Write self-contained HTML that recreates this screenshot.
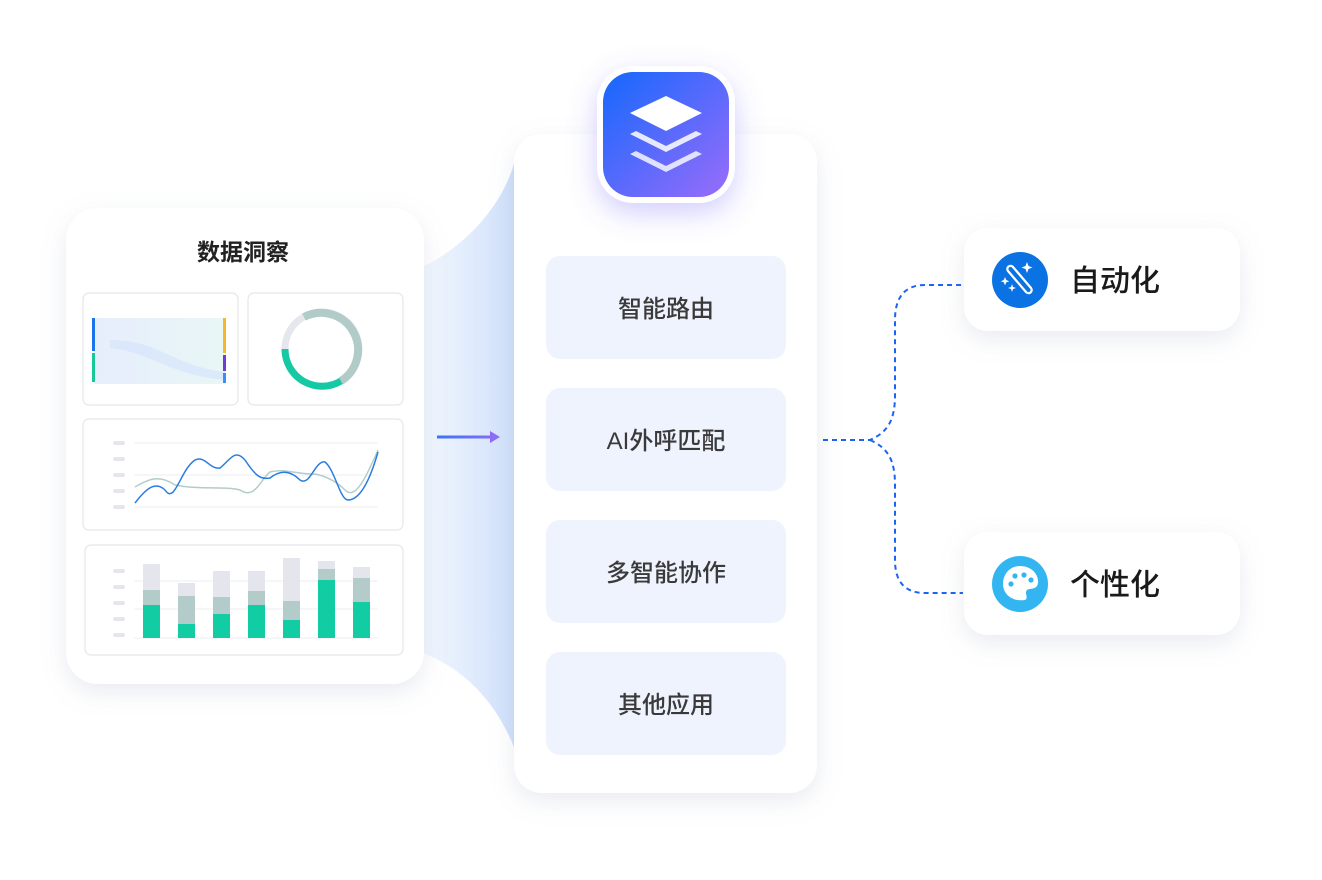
<!DOCTYPE html>
<html><head><meta charset="utf-8"><style>
html,body{margin:0;padding:0;background:#fff;width:1322px;height:880px;overflow:hidden;font-family:"Liberation Sans","Noto Sans CJK SC",sans-serif}
</style></head><body>
<svg width="1322" height="880" viewBox="0 0 1322 880" xmlns="http://www.w3.org/2000/svg" style="position:absolute;left:0;top:0">
<defs>
<linearGradient id="wing" x1="0" y1="0" x2="1" y2="0"><stop offset="0" stop-color="#f4f8fe"/><stop offset="1" stop-color="#cfe0fb"/></linearGradient>
<linearGradient id="ic" x1="0" y1="0" x2="1" y2="1"><stop offset="0" stop-color="#1468fc"/><stop offset="1" stop-color="#9a6cfb"/></linearGradient>
<linearGradient id="arr" gradientUnits="userSpaceOnUse" x1="437" y1="0" x2="500" y2="0"><stop offset="0" stop-color="#3b74f6"/><stop offset="1" stop-color="#8d6cf7"/></linearGradient>
<linearGradient id="sk" x1="0" y1="0" x2="1" y2="0"><stop offset="0" stop-color="#e6eefc"/><stop offset="1" stop-color="#e9f6f6"/></linearGradient>
<filter id="sh" x="-30%" y="-30%" width="160%" height="160%"><feDropShadow dx="0" dy="8" stdDeviation="12" flood-color="#8890b0" flood-opacity="0.18"/></filter>
<filter id="sh2" x="-40%" y="-40%" width="180%" height="180%"><feDropShadow dx="0" dy="10" stdDeviation="14" flood-color="#6a5cf5" flood-opacity="0.3"/></filter>
</defs>
<path d="M420 268 C470 245 505 200 515 160 L515 750 C500 710 470 670 420 652 Z" fill="url(#wing)"/>
<rect x="66" y="208" width="358" height="476" rx="32" fill="#fff" filter="url(#sh)"/>
<text x="243" y="260" font-size="23" fill="#222" text-anchor="middle" font-weight="bold">数据洞察</text>
<g fill="#fff" stroke="#e3e6ea" stroke-width="1.2">
<rect x="83" y="293" width="155" height="112" rx="6"/>
<rect x="248" y="293" width="155" height="112" rx="6"/>
<rect x="83" y="419" width="320" height="111" rx="6"/>
<rect x="85" y="545" width="318" height="110" rx="6"/>
</g>
<rect x="94" y="318" width="132" height="66" fill="url(#sk)"/>
<path d="M110 340 C160 340 170 365 225 372 L225 380 C170 375 150 352 110 348Z" fill="#d8e6fb" opacity="0.8"/>
<rect x="92" y="318" width="3" height="33" fill="#1b74e8"/>
<rect x="92" y="353" width="3" height="29" fill="#18c79a"/>
<rect x="223" y="318" width="3" height="35" fill="#f6b82a"/>
<rect x="223" y="355" width="3" height="16" fill="#6f3dd0"/>
<rect x="223" y="373" width="3" height="10" fill="#3a8ef5"/>
<circle cx="322" cy="349" r="37" fill="none" stroke="#e6e7ed" stroke-width="7"/>
<path d="M304 317 A37 37 0 0 1 341 381" fill="none" stroke="#b1cbc8" stroke-width="8"/>
<path d="M341 381 A37 37 0 0 1 285 349" fill="none" stroke="#14c9a3" stroke-width="7"/>
<g fill="#e5e6ec"><rect x="113" y="441" width="12" height="4" rx="2"/><rect x="113" y="457" width="12" height="4" rx="2"/><rect x="113" y="473" width="12" height="4" rx="2"/><rect x="113" y="489" width="12" height="4" rx="2"/><rect x="113" y="505" width="12" height="4" rx="2"/></g>
<g stroke="#eceef2" stroke-width="1"><line x1="134" y1="443" x2="378" y2="443"/><line x1="134" y1="475" x2="378" y2="475"/><line x1="134" y1="507" x2="378" y2="507"/></g>
<path d="M135 487 C150 478 160 475 175 485 C200 490 225 486 240 490 C255 500 260 480 270 472 C285 468 300 475 315 474 C325 476 335 480 345 490 C355 500 365 480 378 450" fill="none" stroke="#b3ccc9" stroke-width="1.5"/>
<path d="M135 503 C145 490 155 480 165 490 C175 505 180 470 195 460 C205 455 210 470 220 468 C230 460 235 448 245 460 C255 475 260 480 270 478 C280 470 290 470 300 480 C310 487 315 460 325 462 C335 470 340 500 348 500 C360 500 370 480 378 452" fill="none" stroke="#2a7de0" stroke-width="1.5"/>
<g fill="#e5e6ec"><rect x="113" y="569" width="12" height="4" rx="2"/><rect x="113" y="585" width="12" height="4" rx="2"/><rect x="113" y="601" width="12" height="4" rx="2"/><rect x="113" y="617" width="12" height="4" rx="2"/><rect x="113" y="633" width="12" height="4" rx="2"/></g>
<g stroke="#eceef2" stroke-width="1"><line x1="134" y1="581" x2="378" y2="581"/><line x1="134" y1="609" x2="378" y2="609"/><line x1="134" y1="638" x2="378" y2="638"/></g>
<g>
<rect x="143" y="564" width="17" height="26" fill="#e5e5ee"/><rect x="143" y="590" width="17" height="15" fill="#b3ccc9"/><rect x="143" y="605" width="17" height="33" fill="#12cca4"/>
<rect x="178" y="583" width="17" height="13" fill="#e5e5ee"/><rect x="178" y="596" width="17" height="28" fill="#b3ccc9"/><rect x="178" y="624" width="17" height="14" fill="#12cca4"/>
<rect x="213" y="571" width="17" height="26" fill="#e5e5ee"/><rect x="213" y="597" width="17" height="17" fill="#b3ccc9"/><rect x="213" y="614" width="17" height="24" fill="#12cca4"/>
<rect x="248" y="571" width="17" height="20" fill="#e5e5ee"/><rect x="248" y="591" width="17" height="14" fill="#b3ccc9"/><rect x="248" y="605" width="17" height="33" fill="#12cca4"/>
<rect x="283" y="558" width="17" height="43" fill="#e5e5ee"/><rect x="283" y="601" width="17" height="19" fill="#b3ccc9"/><rect x="283" y="620" width="17" height="18" fill="#12cca4"/>
<rect x="318" y="561" width="17" height="8" fill="#e5e5ee"/><rect x="318" y="569" width="17" height="11" fill="#b3ccc9"/><rect x="318" y="580" width="17" height="58" fill="#12cca4"/>
<rect x="353" y="567" width="17" height="11" fill="#e5e5ee"/><rect x="353" y="578" width="17" height="24" fill="#b3ccc9"/><rect x="353" y="602" width="17" height="36" fill="#12cca4"/>
</g>
<rect x="437" y="435.5" width="55" height="3" fill="url(#arr)"/>
<path d="M490 431 L500 437 L490 443 Z" fill="#8d6cf7"/>
<rect x="514" y="134" width="303" height="659" rx="28" fill="#fff" filter="url(#sh)"/>
<g font-size="24" fill="#3a3a3a" text-anchor="middle" font-weight="500">
<rect x="546" y="256" width="240" height="103" rx="14" fill="#eff3fe"/><text x="666" y="317">智能路由</text>
<rect x="546" y="388" width="240" height="103" rx="14" fill="#eff3fe"/><text x="666" y="449">AI外呼匹配</text>
<rect x="546" y="520" width="240" height="103" rx="14" fill="#eff3fe"/><text x="666" y="581">多智能协作</text>
<rect x="546" y="652" width="240" height="103" rx="14" fill="#eff3fe"/><text x="666" y="713">其他应用</text>
</g>
<rect x="597" y="66" width="138" height="137" rx="36" fill="#fff" filter="url(#sh2)"/>
<rect x="603" y="72" width="126" height="125" rx="30" fill="url(#ic)"/>
<path d="M666 96 L702 113 L666 131 L630 113 Z" fill="#fff"/>
<path d="M636 131 L666 146 L696 131 L702 134 L666 152 L630 134 Z" fill="#fff" opacity="0.85"/>
<path d="M636 151 L666 166 L696 151 L702 154 L666 172 L630 154 Z" fill="#fff" opacity="0.8"/>
<g fill="none" stroke="#1b63f5" stroke-width="2" stroke-dasharray="5 4">
<path d="M823 440 L870 440 C888 432 895 420 895 395 L895 320 C895 297 905 285 925 285 L963 285"/>
<path d="M870 440 C888 448 895 460 895 485 L895 560 C895 582 905 593 925 593 L963 593"/>
</g>
<rect x="964" y="228" width="276" height="103" rx="24" fill="#fff" filter="url(#sh)"/>
<rect x="964" y="532" width="276" height="103" rx="24" fill="#fff" filter="url(#sh)"/>
<circle cx="1020" cy="280" r="28" fill="#0a72e3"/>
<path d="M1008 271 L1026 292 a3 3 0 0 0 5 -4 L1013 267 a3 3 0 0 0 -5 4Z" fill="none" stroke="#fff" stroke-width="2.2"/>
<path d="M1027 262 l1.5 4 4 1.5 -4 1.5 -1.5 4 -1.5 -4 -4 -1.5 4 -1.5Z M1005 277 l1.2 3 3 1.2 -3 1.2 -1.2 3 -1.2 -3 -3 -1.2 3 -1.2Z M1012 284 l1 3 3 1 -3 1 -1 3 -1 -3 -3 -1 3 -1Z" fill="#fff"/>
<circle cx="1020" cy="584" r="28" fill="#33b5f1"/>
<path d="M1020 566 C1032 566 1039 575 1038 583 C1037 590 1030 588 1027 590 C1024 593 1029 598 1025 600 C1012 602 1003 594 1003 584 C1003 574 1010 566 1020 566Z" fill="#fff"/>
<g fill="#33b5f1"><circle cx="1011" cy="584" r="2.6"/><circle cx="1015" cy="576" r="2.6"/><circle cx="1024" cy="575" r="2.6"/><circle cx="1031" cy="580" r="2.6"/></g>
<text x="1070" y="291" font-size="30" fill="#1a1a1a" font-weight="500">自动化</text>
<text x="1070" y="595" font-size="30" fill="#1a1a1a" font-weight="500">个性化</text>
</svg>
</body></html>
